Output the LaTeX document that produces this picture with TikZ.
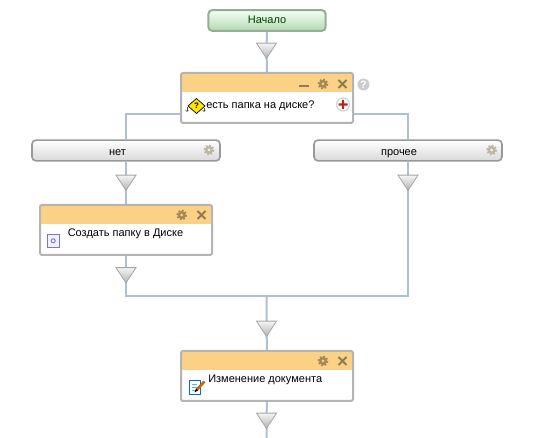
\documentclass[tikz,border=0pt]{standalone}
\usepackage{fontspec}
\setmainfont{Liberation Sans}
\usetikzlibrary{shapes.geometric,backgrounds}
\definecolor{wire}{HTML}{AEBFD6}
\definecolor{frame}{HTML}{B4B4B4}
\definecolor{hdr}{HTML}{FBD185}
\definecolor{ico}{HTML}{A5895A}
\definecolor{icopale}{HTML}{BDB5A5}
\definecolor{xmark}{HTML}{8F7A58}
\definecolor{startline}{HTML}{94AE94}
\newcommand{\gearicon}[4]{%
  \draw[#3,line width=1.3pt,dash pattern=on 1.4pt off 1.25pt] (#1,#2) circle[radius=4.6];
  \fill[#3] (#1,#2) circle[radius=4];
  \fill[#4] (#1,#2) circle[radius=1.5];}
\newcommand{\closeicon}[2]{%
  \draw[xmark,line width=1.5pt] (#1-4,#2-4) -- (#1+4,#2+4) (#1-4,#2+4) -- (#1+4,#2-4);}
\tikzset{
  x=0.75pt,y=-0.75pt,
  txt/.style={inner sep=0,font=\fontsize{8.25pt}{10pt}\selectfont,text=black},
  wireline/.style={draw=wire,line width=1.5pt},
  tri/.style={isosceles triangle,isosceles triangle stretches,shape border rotate=270,
    minimum width=15pt,minimum height=11.5pt,inner sep=0,anchor=apex,
    draw=gray!70,line width=0.6pt,top color=gray!8,bottom color=gray!60},
  taskbox/.style={draw=frame,line width=1.5pt,rounded corners=1.5pt,fill=white,inner sep=0,
    minimum width=129pt,minimum height=37.5pt,
    path picture={\fill[hdr] (path picture bounding box.north west) rectangle
      ([yshift=-14.2pt]path picture bounding box.north east);}},
  btn/.style={draw=gray!80,line width=1.2pt,rounded corners=3pt,inner sep=0,
    minimum width=141pt,minimum height=15.6pt,top color=white,bottom color=gray!30},
  startbox/.style={draw=startline,line width=1.5pt,rounded corners=3pt,inner sep=0,
    minimum width=88pt,minimum height=15.6pt,top color=green!4!white,bottom color=green!50!black!30!white},
}
\begin{document}
\begin{tikzpicture}
\useasboundingbox (0,0) rectangle (533,438);
\node[startbox] (start) at (267,20.5) {};
\node[tri] (t1) at (266.5,59.5) {};
\node[taskbox] (box1) at (267,98) {};
\node[btn] (net) at (126,150.5) {};
\node[btn] (other) at (408,150.5) {};
\node[tri] (t2) at (126,191.5) {};
\node[tri] (t4) at (408,191.5) {};
\node[taskbox] (box2) at (126,230) {};
\node[tri] (t3) at (126,284) {};
\coordinate (merge) at (266.5,296.5);
\node[tri] (t5) at (266.5,337.5) {};
\node[taskbox] (box3) at (267,376) {};
\node[tri] (t6) at (266.5,429.5) {};
\coordinate (tail) at (266.5,438);
\begin{scope}[on background layer]
\draw[wireline] (start.south) -- (t1.center) -- (box1.north);
\draw[wireline] ([yshift=7.5pt]box1.south west) -| (net.north);
\draw[wireline] ([yshift=7.5pt]box1.south east) -| (other.north);
\draw[wireline] (net.south) -- (t2.center) -- (box2.north);
\draw[wireline] (box2.south) -- (t3.center);
\draw[wireline] (t3.center) |- (merge);
\draw[wireline] (other.south) -- (t4.center);
\draw[wireline] (t4.center) |- (merge);
\draw[wireline] (merge) -- (t5.center) -- (box3.north);
\draw[wireline] (box3.south) -- (t6.center) -- (tail);
\end{scope}
% texts
\node[txt,text=green!25!black,anchor=base] (l0) at (267,23.5) {Начало};
\node[txt,anchor=base west] (l1) at (206,108.5) {есть папка на диске?};
\node[txt,anchor=base] (l2) at (117.5,156) {нет};
\node[txt,anchor=base] (l3) at (399,156) {прочее};
\node[txt,anchor=base west] (l4) at (67.5,236.5) {Создать папку в Диске};
\node[txt,anchor=base west] (l5) at (208,382.5) {Изменение документа};
% box1 icons
\fill[xmark] (299,85) rectangle (309,87.5);
\gearicon{323}{84}{ico}{hdr}
\closeicon{342.5}{84}
\fill[gray!40] (363.5,84.5) circle[radius=6];
\node[inner sep=0,text=white,font=\bfseries\fontsize{8pt}{9pt}\selectfont] (q) at (363.5,84.5) {?};
\filldraw[draw=gray!35,fill=white,line width=0.9pt] (343,104.5) circle[radius=6.5];
\fill[red!65!black!85] (338.5,103.4) rectangle (347.5,105.6) (341.9,100) rectangle (344.1,109);
% decision icon
\filldraw[draw=black,fill=yellow!90!orange,line width=0.5pt] (196.5,98.5) -- (205,106) -- (196.5,113.5) -- (188,106) -- cycle;
\node[inner sep=0,font=\bfseries\fontsize{6pt}{7pt}\selectfont] (qd) at (196.5,106) {?};
\draw[black!70,line width=0.4pt] (187,107) -- (187,111.5) (204,108) -- (204,111.5);
\draw[black!70,line width=0.4pt] (185.5,110) -- (187,111.5) -- (188.5,110) (202.5,110) -- (204,111.5) -- (205.5,110);
% box2 icons
\gearicon{181.7}{215}{ico}{hdr}
\closeicon{201.5}{215}
\filldraw[draw=blue!55!gray!70,fill=blue!5,line width=0.7pt] (47,234.5) rectangle (59.5,247);
\draw[blue!40!gray!70,line width=0.8pt] (53.2,240.8) circle[radius=2];
% box3 icons
\gearicon{323}{361}{ico}{hdr}
\closeicon{342.5}{361}
\filldraw[draw=blue!60!cyan,fill=white,line width=0.7pt] (189.5,380.5) rectangle (200.5,394);
\draw[blue!40!cyan!70,line width=0.6pt] (191.5,384) -- (197,384) (191.5,387) -- (197,387) (191.5,390) -- (197,390);
\draw[orange!80!black,line width=2pt] (197,389.5) -- (204.5,381.5);
\fill[black] (194.5,392.5) -- (196,388.5) -- (198,390.5) -- cycle;
% toggles
\gearicon{209}{150}{icopale}{gray!12}
\gearicon{491.7}{150}{icopale}{gray!12}
\end{tikzpicture}
\end{document}
